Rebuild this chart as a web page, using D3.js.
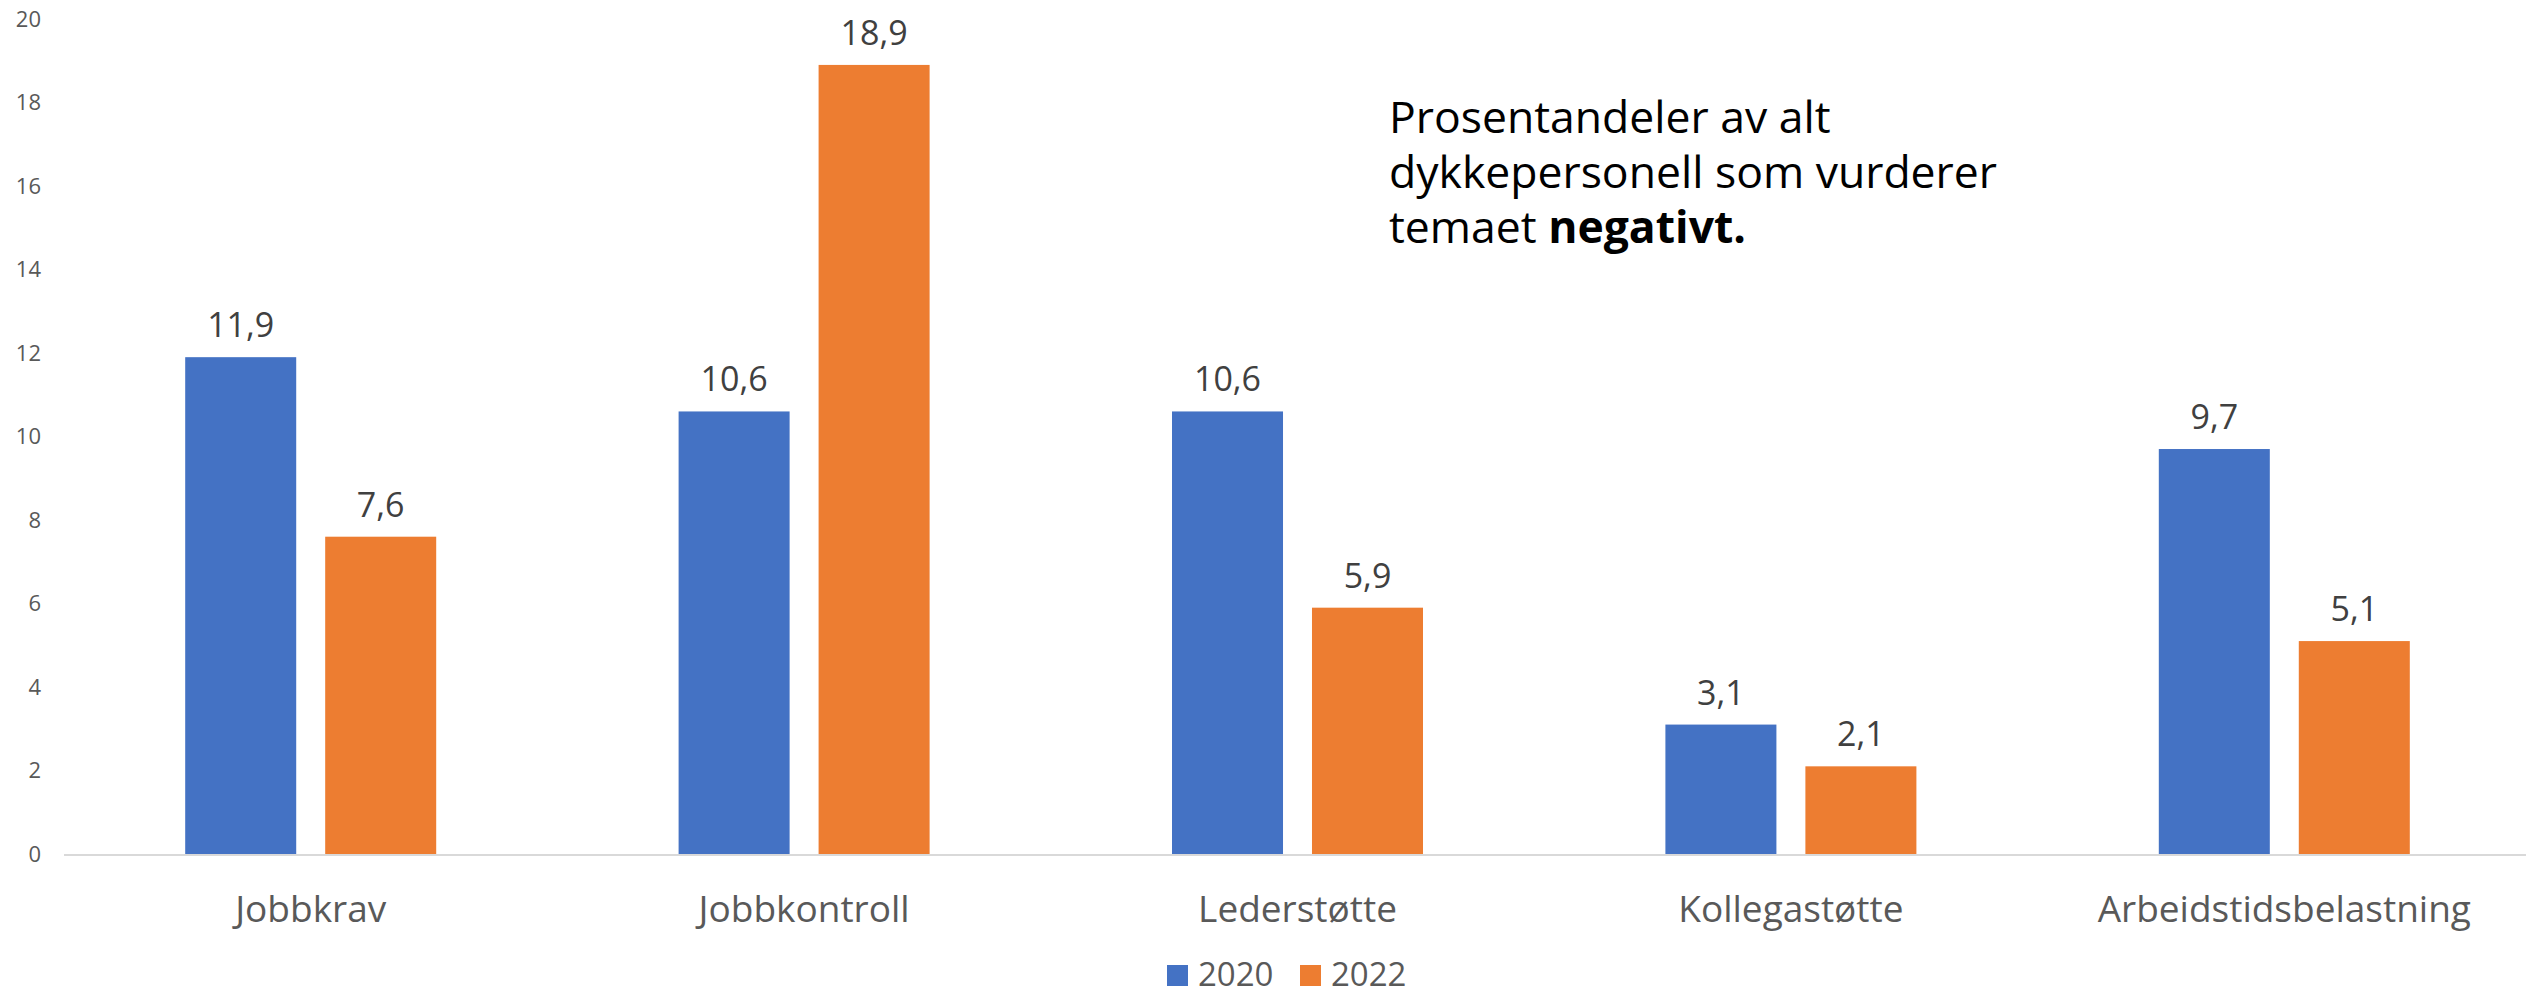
<!DOCTYPE html>
<html>
<head>
<meta charset="utf-8">
<script src="https://cdn.jsdelivr.net/npm/d3@7"></script>
<style>
  body { margin: 0; background: #fff; }
  svg { display: block; }
  text { font-variant-ligatures: none; }
</style>
</head>
<body>
<div class="container"></div>
<script>
const WIDTH = 2526;
const HEIGHT = 996;
const LEFT = 64;
const RIGHT = 2531;
const TOP = 19;
const BASE = 854;
const FONT = '"Open Sans", "Noto Sans", sans-serif';

var categories = ['Jobbkrav', 'Jobbkontroll', 'Lederstøtte', 'Kollegastøtte', 'Arbeidstidsbelastning'];
var years = ['2020', '2022'];
var values2020 = [11.9, 10.6, 10.6, 3.1, 9.7];
var values2022 = [7.6, 18.9, 5.9, 2.1, 5.1];
var yTicks = [0, 2, 4, 6, 8, 10, 12, 14, 16, 18, 20];
var colors = ['#4472C4', '#ED7D31'];
var titleLines = ['Prosentandeler av alt', 'dykkepersonell som vurderer', 'temaet '];
var titleBold = 'negativt.';

var translate = function(x, y) {
    return `translate(${x},${y})`;
};

var fmt = function(v) {
    return d3.format('.1f')(v).replace('.', ',');
};

var fillLayout = function() {
    var svg = d3.select('.container').append('svg')
        .attr('width', WIDTH)
        .attr('height', HEIGHT);

    let xScale = d3.scaleBand()
        .domain(categories)
        .range([LEFT, RIGHT])
        .padding(0);

    let groupWidth = 251;
    let subScale = d3.scaleBand()
        .domain(years)
        .range([(xScale.step() - groupWidth) / 2, (xScale.step() + groupWidth) / 2])
        .paddingInner(0.207)
        .paddingOuter(0);

    let yScale = d3.scaleLinear()
        .domain([0, 20])
        .range([BASE, TOP]);

    // y axis, labels only
    let yAxis = d3.axisLeft(yScale).tickValues(yTicks).tickSize(0).tickPadding(0);
    svg.append('g')
        .attr('transform', translate(41, 0))
        .call(yAxis)
        .call(g => g.select('.domain').remove())
        .call(g => g.selectAll('text')
            .attr('fill', '#595959')
            .style('font-family', FONT)
            .style('font-size', '22px'));

    // baseline
    svg.append('line')
        .attr('x1', LEFT)
        .attr('x2', WIDTH)
        .attr('y1', yScale(0) + 1)
        .attr('y2', yScale(0) + 1)
        .attr('stroke', '#d9d9d9')
        .attr('stroke-width', 2);

    // x axis labels
    let xAxis = d3.axisBottom(xScale).tickSize(0).tickPadding(0);
    svg.append('g')
        .attr('transform', translate(0, 922))
        .call(xAxis)
        .call(g => g.select('.domain').remove())
        .call(g => g.selectAll('text')
            .attr('dy', 0)
            .attr('fill', '#595959')
            .style('font-family', FONT)
            .style('font-size', '37px'));

    var rows = categories.map((c, i) => ({
        cat: c,
        vals: [{ year: '2020', v: values2020[i] }, { year: '2022', v: values2022[i] }]
    }));

    var groups = svg.selectAll('g.group').data(rows).enter()
        .append('g')
        .classed('group', true)
        .attr('transform', (d) => translate(xScale(d.cat), 0));

    groups.selectAll('rect').data((d) => d.vals).enter()
        .append('rect')
        .attr('x', (d) => subScale(d.year))
        .attr('width', subScale.bandwidth())
        .attr('y', (d) => yScale(d.v))
        .attr('height', (d) => yScale(0) - yScale(d.v))
        .attr('fill', (d, i) => colors[i]);

    groups.selectAll('text.val').data((d) => d.vals).enter()
        .append('text')
        .classed('val', true)
        .attr('x', (d) => subScale(d.year) + subScale.bandwidth() / 2)
        .attr('y', (d) => yScale(d.v) - 20)
        .attr('text-anchor', 'middle')
        .attr('fill', '#404040')
        .style('font-family', FONT)
        .style('font-size', '34px')
        .text((d) => fmt(d.v));

    // legend (kept just inside the bottom edge)
    var legend = svg.append('g').attr('transform', translate(1167, 965));
    var items = legend.selectAll('g').data(years).enter()
        .append('g')
        .attr('transform', (d, i) => translate(i * 133, 0));
    items.append('rect')
        .attr('width', 21)
        .attr('height', 21)
        .attr('fill', (d, i) => colors[i]);
    items.append('text')
        .attr('x', 31)
        .attr('y', 21)
        .attr('fill', '#595959')
        .style('font-family', FONT)
        .style('font-size', '33px')
        .text((d) => d);

    // title block
    var title = svg.append('text')
        .attr('x', 1389)
        .attr('y', 133)
        .attr('fill', '#000')
        .style('font-family', FONT)
        .style('font-size', '44.5px');
    titleLines.forEach((line, i) => {
        title.append('tspan')
            .attr('x', 1389)
            .attr('dy', i === 0 ? 0 : 55)
            .text(line);
    });
    title.append('tspan')
        .style('font-weight', 'bold')
        .text(titleBold);
};
window.onload = fillLayout;
</script>
</body>
</html>
